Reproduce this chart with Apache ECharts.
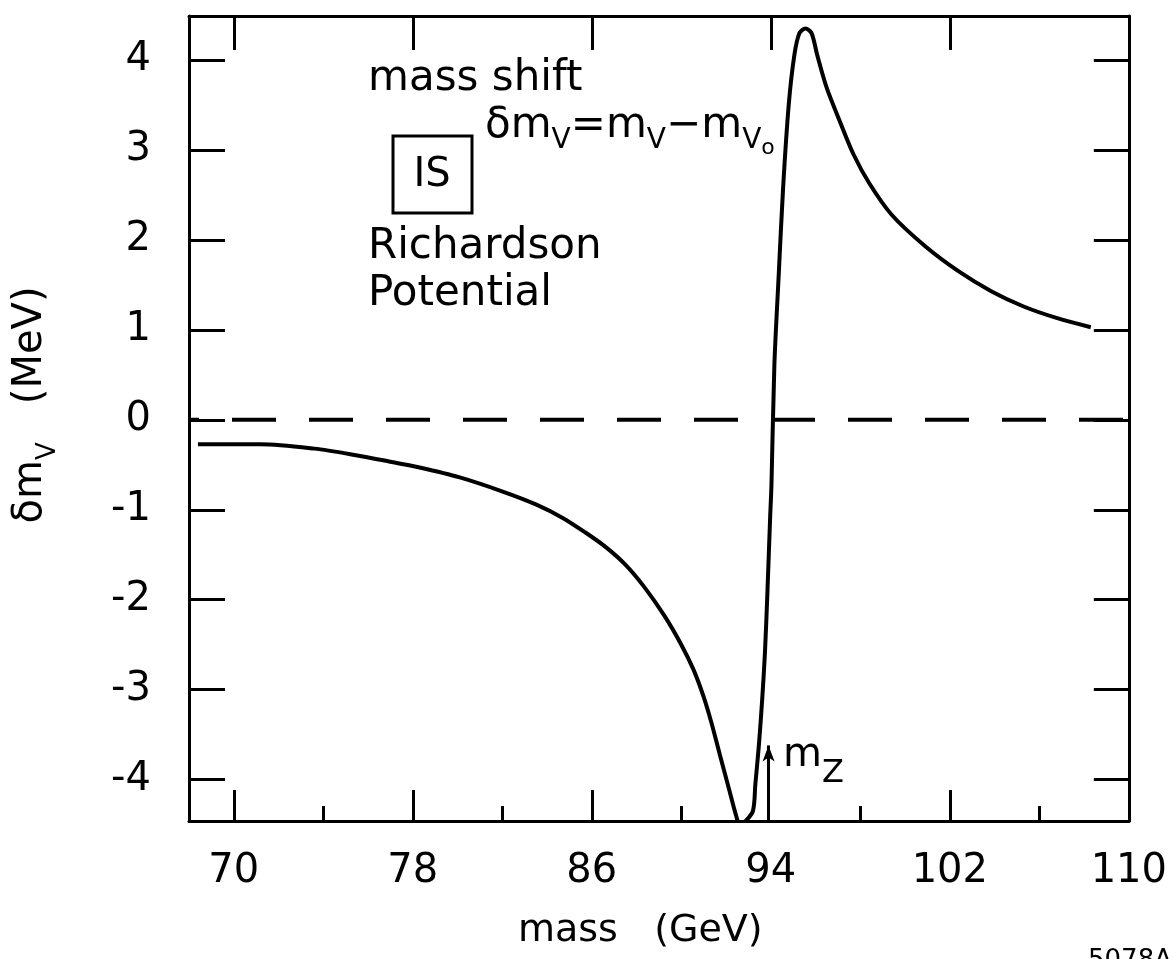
<!DOCTYPE html>
<html>
<head>
<meta charset="utf-8">
<script src="https://cdn.jsdelivr.net/npm/echarts@6/dist/echarts.min.js"></script>
<style>
  html, body { margin: 0; padding: 0; background: #fff; }
  #chart { width: 1170px; height: 959px; }
</style>
</head>
<body>
<div id="chart"></div>
<script>
// Mass shift of the 1S toponium level near the Z pole (Richardson potential)
const massGeV = [68.4, 71.2, 73.6, 75.4, 76.9, 78.3, 80.1, 82.05, 83.5, 84.7, 85.7,
  86.6, 87.5, 88.35, 89.25, 90.0, 90.55, 91.0, 91.35, 91.72, 92.15, 92.45, 92.65,
  92.85, 93.2, 93.31, 93.47, 93.62, 93.74, 93.85, 93.97, 94.03, 94.16, 94.36, 94.55,
  94.8, 95.05, 95.28, 95.55, 95.82, 96.08, 96.5, 97.1, 97.7, 98.4, 99.4, 100.9,
  102.4, 103.85, 105.3, 106.8, 108.3];
const shiftMeV = [-0.27, -0.27, -0.32, -0.39, -0.46, -0.53, -0.64, -0.80, -0.94, -1.09, -1.25,
  -1.41, -1.61, -1.86, -2.18, -2.50, -2.78, -3.08, -3.37, -3.72, -4.12, -4.40, -4.53,
  -4.47, -4.35, -4.05, -3.61, -3.09, -2.58, -1.91, -1.09, -0.72, 0.61, 1.64, 2.58,
  3.50, 4.05, 4.30, 4.35, 4.30, 4.05, 3.69, 3.31, 2.95, 2.63, 2.28, 1.93,
  1.65, 1.43, 1.26, 1.13, 1.03];

const xBottomMajorTicks = [70, 78, 86, 102];
const xTopMajorTicks = [70, 78, 86, 94, 102];
const xMinorTicks = [74, 82, 90, 98, 106];
const xTickLabels = [70, 78, 86, 94, 102, 110];
const yTicks = [-4, -3, -2, -1, 0, 1, 2, 3, 4];
const zeroLineX = [68, 110];   // dashed reference line at zero shift
const zeroLineY = [0, 0];
const zMass = [93.9];          // position of the m_Z arrow
const zArrowTop = [-3.62];     // tip of the arrow

const FONT = '"DejaVu Sans", sans-serif';
const INK = '#000';

const chart = echarts.init(document.getElementById('chart'), null, { renderer: 'canvas' });

const baseX = { type: 'value', min: 68, max: 110, splitLine: { show: false } };
const baseY = { type: 'value', min: -4.46, max: 4.49, splitLine: { show: false } };
const frameLine = { show: true, onZero: false, lineStyle: { color: INK, width: 3 } };

const option = {
  animation: false,
  backgroundColor: '#fff',
  grid: { left: 189, right: 36, top: 16, bottom: 138, containLabel: false },
  xAxis: [
    Object.assign({}, baseX, {
      position: 'bottom',
      axisLine: frameLine,
      axisTick: { show: true, inside: true, length: 31, customValues: xBottomMajorTicks, lineStyle: { color: INK, width: 3 } },
      axisLabel: { show: true, customValues: xTickLabels, margin: 31, color: INK, fontFamily: FONT, fontSize: 40 }
    }),
    Object.assign({}, baseX, {
      position: 'bottom',
      axisLine: { show: false, onZero: false },
      axisTick: { show: true, inside: true, length: 15, customValues: xMinorTicks, lineStyle: { color: INK, width: 3 } },
      axisLabel: { show: false }
    }),
    Object.assign({}, baseX, {
      position: 'top',
      axisLine: frameLine,
      axisTick: { show: true, inside: true, length: 34, customValues: xTopMajorTicks, lineStyle: { color: INK, width: 3 } },
      axisLabel: { show: false }
    })
  ],
  yAxis: [
    Object.assign({}, baseY, {
      position: 'left',
      axisLine: frameLine,
      axisTick: { show: true, inside: true, length: 36, customValues: yTicks, lineStyle: { color: INK, width: 3 } },
      axisLabel: { show: true, customValues: yTicks, margin: 38, color: INK, fontFamily: FONT, fontSize: 40 }
    }),
    Object.assign({}, baseY, {
      position: 'right',
      axisLine: frameLine,
      axisTick: { show: true, inside: true, length: 35, customValues: yTicks, lineStyle: { color: INK, width: 3 } },
      axisLabel: { show: false }
    })
  ],
  series: [
    {
      // dashed zero line
      type: 'line',
      data: zeroLineX.map((m, i) => [m, zeroLineY[i]]),
      showSymbol: false,
      silent: true,
      lineStyle: { color: INK, width: 4, type: [44, 33], dashOffset: 34 }
    },
    {
      type: 'line',
      data: massGeV.map((m, i) => [m, shiftMeV[i]]),
      showSymbol: false,
      smooth: 0.3,
      clip: true,
      lineStyle: { color: INK, width: 4 },
      silent: true,
      markLine: {
        silent: true,
        animation: false,
        label: { show: false },
        symbol: ['none', 'arrow'],
        symbolSize: [9, 16],
        lineStyle: { color: INK, width: 3, type: 'solid' },
        data: [
          [
            { coord: [zMass[0], -4.46] },
            { coord: [zMass[0], zArrowTop[0]] }
          ]
        ]
      }
    }
  ],
  graphic: [
    // y-axis title
    {
      type: 'text', x: 37, y: 405, rotation: Math.PI / 2,
      style: {
        text: '{b|δm}{s|V}{b|   (MeV)}',
        align: 'center', verticalAlign: 'middle', fill: INK,
        rich: {
          b: { fontFamily: FONT, fontSize: 40, color: INK, verticalAlign: 'bottom', padding: [0, 0, 12, 0] },
          s: { fontFamily: FONT, fontSize: 26, color: INK, verticalAlign: 'bottom', padding: [0, 0, 2, 0] }
        }
      }
    },
    // x-axis title
    {
      type: 'text', x: 518, y: 912,
      style: { text: 'mass   (GeV)', fontFamily: FONT, fontSize: 38, fill: INK, align: 'left', verticalAlign: 'top' }
    },
    // annotations
    {
      type: 'text', x: 368, y: 58,
      style: { text: 'mass shift', fontFamily: FONT, fontSize: 42, fill: INK, align: 'left', verticalAlign: 'top' }
    },
    {
      type: 'text', x: 485, y: 172,
      style: {
        text: '{b|δm}{s|V}{b|=m}{s|V}{b|−m}{s|V}{t|o}',
        align: 'left', verticalAlign: 'bottom', fill: INK,
        rich: {
          b: { fontFamily: FONT, fontSize: 42, color: INK, verticalAlign: 'bottom', padding: [0, 0, 25, 0] },
          s: { fontFamily: FONT, fontSize: 28, color: INK, verticalAlign: 'bottom', padding: [0, 0, 17, 0] },
          t: { fontFamily: FONT, fontSize: 22, color: INK, verticalAlign: 'bottom', padding: [0, 0, 13, 0] }
        }
      }
    },
    {
      type: 'rect', shape: { x: 393, y: 136, width: 79, height: 77 },
      style: { fill: 'none', stroke: INK, lineWidth: 3 }
    },
    {
      type: 'text', x: 432, y: 176,
      style: { text: 'IS', fontFamily: FONT, fontSize: 40, fill: INK, align: 'center', verticalAlign: 'middle' }
    },
    {
      type: 'text', x: 368, y: 226,
      style: { text: 'Richardson', fontFamily: FONT, fontSize: 42, fill: INK, align: 'left', verticalAlign: 'top' }
    },
    {
      type: 'text', x: 368, y: 273,
      style: { text: 'Potential', fontFamily: FONT, fontSize: 42, fill: INK, align: 'left', verticalAlign: 'top' }
    },
    {
      type: 'text', x: 783, y: 790,
      style: {
        text: '{b|m}{s|Z}',
        align: 'left', verticalAlign: 'bottom', fill: INK,
        rich: {
          b: { fontFamily: FONT, fontSize: 40, color: INK, verticalAlign: 'bottom', padding: [0, 0, 14, 0] },
          s: { fontFamily: FONT, fontSize: 32, color: INK, verticalAlign: 'bottom', padding: [0, 0, 0, 0] }
        }
      }
    },
    {
      type: 'text', x: 1088, y: 948,
      style: { text: '5078A11', fontFamily: FONT, fontSize: 26, fill: INK, align: 'left', verticalAlign: 'top' }
    }
  ]
};

chart.setOption(option);
</script>
</body>
</html>
